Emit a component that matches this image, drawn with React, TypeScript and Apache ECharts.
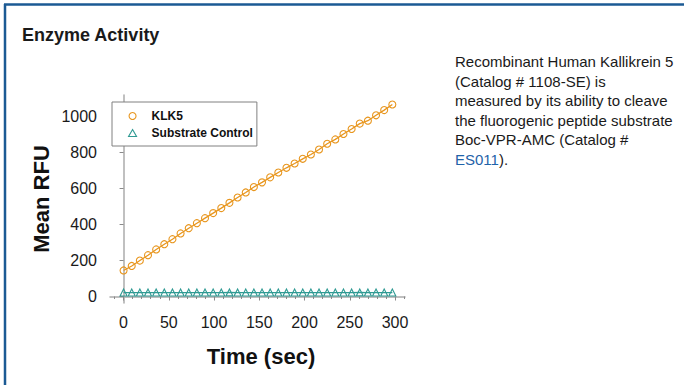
import React, { useEffect, useRef } from "react";
import * as echarts from "echarts";

const timeSec = [0, 9, 18, 27, 36, 45, 54, 63, 72, 81, 90, 99, 108, 117, 126, 135, 144, 153, 162, 171, 180, 189, 198, 207, 216, 225, 234, 243, 252, 261, 270, 279, 288, 297];
const klk5Rfu = [145, 170, 200, 230, 262, 291, 319, 351, 380, 408, 436, 464, 492, 521, 551, 579, 609, 635, 663, 690, 716, 740, 766, 790, 818, 850, 874, 904, 932, 962, 978, 1008, 1037, 1068];
const substrateRfu = [22, 22, 22, 22, 22, 22, 22, 22, 22, 22, 22, 22, 22, 23, 22, 22, 22, 22, 22, 22, 22, 22, 22, 22, 22, 22, 22, 22, 22, 23, 22, 22, 22, 22];
const xTicks = [0, 50, 100, 150, 200, 250, 300];
const xMinorTicks = [-10, 10, 20, 30, 40, 60, 70, 80, 90, 110, 120, 130, 140, 160, 170, 180, 190, 210, 220, 230, 240, 260, 270, 280, 290, 310];
const yTicks = [0, 200, 400, 600, 800, 1000];

const FONT = "'Liberation Sans', Arial, sans-serif";
const ORANGE = "#E8961E";
const TEAL = "#2F9A93";
const AXIS = "#ababab";

export default function App() {
  const ref = useRef<HTMLDivElement>(null);
  useEffect(() => {
    if (!ref.current) return;
    const chart = echarts.init(ref.current, null, { renderer: "svg" });
    const grid = { left: 110, right: 279, top: 95, bottom: 82 };
    chart.setOption({
      animation: false,
      backgroundColor: "#ffffff",
      title: {
        text: "Enzyme Activity",
        left: 17,
        top: 21,
        textStyle: { fontFamily: FONT, fontSize: 18, fontWeight: "bold", color: "#1a1a1a" },
      },
      grid: [grid, { ...grid }],
      legend: {
        orient: "vertical",
        left: 112,
        top: 102,
        padding: [8, 4, 7, 16],
        itemGap: 5,
        itemWidth: 8,
        itemHeight: 7,
        symbolKeepAspect: true,
        borderColor: "#808080",
        borderWidth: 1,
        backgroundColor: "#ffffff",
        textStyle: { fontFamily: FONT, fontSize: 12, fontWeight: "bold", color: "#111", lineHeight: 12, padding: [0, 0, 0, 10] },
        data: [
          { name: "KLK5", icon: "circle", itemStyle: { color: "#ffffff", borderColor: ORANGE, borderWidth: 1.1 } },
          { name: "Substrate Control", icon: "triangle", itemStyle: { color: "#ffffff", borderColor: TEAL, borderWidth: 1.1 } },
        ],
      },
      xAxis: [
        {
          type: "value",
          gridIndex: 0,
          min: -15,
          max: 311,
          position: "bottom",
          axisLine: { show: true, lineStyle: { color: AXIS, width: 1.5 } },
          axisTick: { show: true, customValues: xTicks, length: 4, lineStyle: { color: "#8a8a8a", width: 1 } },
          axisLabel: { customValues: xTicks, margin: 11, fontSize: 16, color: "#1a1a1a", fontFamily: FONT, formatter: (v: number) => String(v) },
          splitLine: { show: false },
          name: "Time (sec)",
          nameLocation: "middle",
          nameGap: 42,
          nameTextStyle: { fontSize: 22, fontWeight: "bold", color: "#111", fontFamily: FONT, padding: [0, 0, 0, 7] },
        },
        {
          type: "value",
          gridIndex: 1,
          min: -15,
          max: 311,
          position: "bottom",
          axisLine: { show: false },
          axisTick: { show: true, customValues: xMinorTicks, length: 2.5, lineStyle: { color: "#8a8a8a", width: 1 } },
          axisLabel: { show: false },
          splitLine: { show: false },
        },
      ],
      yAxis: [
        {
          type: "value",
          gridIndex: 0,
          min: -36,
          max: 1121,
          axisLine: { show: true, lineStyle: { color: AXIS, width: 1.5 } },
          axisTick: { show: true, customValues: yTicks, length: 4, lineStyle: { color: "#8a8a8a", width: 1 } },
          axisLabel: { customValues: yTicks, margin: 13, fontSize: 16, color: "#1a1a1a", fontFamily: FONT, formatter: (v: number) => String(v) },
          splitLine: { show: false },
          name: "Mean RFU",
          nameLocation: "middle",
          nameGap: 58,
          nameTextStyle: { fontSize: 22, fontWeight: "bold", color: "#111", fontFamily: FONT },
        },
        {
          type: "value",
          gridIndex: 1,
          min: -36,
          max: 1121,
          show: false,
        },
      ],
      series: [
        {
          name: "KLK5",
          type: "line",
          xAxisIndex: 0,
          yAxisIndex: 0,
          data: timeSec.map((t, i) => [t, klk5Rfu[i]]),
          symbol: "circle",
          symbolSize: 7,
          itemStyle: { color: "rgba(255,255,255,0)", borderColor: ORANGE, borderWidth: 1.1 },
          lineStyle: { color: ORANGE, width: 1.3 },
          z: 3,
        },
        {
          name: "Substrate Control",
          type: "line",
          xAxisIndex: 0,
          yAxisIndex: 0,
          data: timeSec.map((t, i) => [t, substrateRfu[i]]),
          symbol: "triangle",
          symbolSize: 7,
          itemStyle: { color: "rgba(255,255,255,0)", borderColor: TEAL, borderWidth: 1.1 },
          lineStyle: { color: TEAL, width: 1.2 },
          z: 3,
        },
      ],
      graphic: [
        { type: "line", shape: { x1: 4, y1: 4.5, x2: 684, y2: 4.5 }, style: { stroke: "#1b5a94", lineWidth: 2.5 } },
        { type: "line", shape: { x1: 5, y1: 4, x2: 5, y2: 385 }, style: { stroke: "#1b5a94", lineWidth: 2.5 } },
        {
          type: "text",
          left: 455,
          top: 52,
          style: {
            text: "Recombinant Human Kallikrein 5\n(Catalog # 1108-SE) is\nmeasured by its ability to cleave\nthe fluorogenic peptide substrate\nBoc-VPR-AMC (Catalog #\n{link|ES011}).",
            fontSize: 15,
            fontFamily: FONT,
            fill: "#1a1a1a",
            lineHeight: 19.5,
            rich: {
              link: { fill: "#1f63a9", fontSize: 15, fontFamily: FONT, lineHeight: 19.5 },
            },
          },
        },
      ],
    });
    return () => chart.dispose();
  }, []);
  return (
    <div
      ref={ref}
      style={{ position: "fixed", left: 0, top: 0, width: 684, height: 385, background: "#fff" }}
    />
  );
}
